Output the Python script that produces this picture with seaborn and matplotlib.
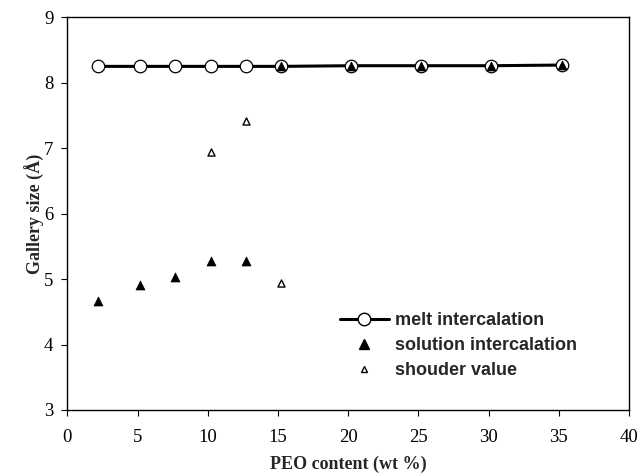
"""Gallery size vs PEO content: melt vs solution intercalation."""
import pandas as pd
import matplotlib
matplotlib.use("Agg")
import matplotlib.pyplot as plt
import seaborn as sns
from matplotlib.lines import Line2D

# melt intercalation (open circles joined by a line)
MELT_X = [2.2, 5.2, 7.7, 10.2, 12.7, 15.2, 20.2, 25.2, 30.2, 35.2]
MELT_Y = [8.25, 8.25, 8.25, 8.25, 8.25, 8.25, 8.26, 8.26, 8.26, 8.27]

# solution intercalation (filled triangles)
SOL_X = [2.2, 5.2, 7.7, 10.2, 12.7, 15.2, 20.2, 25.2, 30.2, 35.2]
SOL_Y = [4.67, 4.91, 5.03, 5.28, 5.28, 8.25, 8.26, 8.26, 8.26, 8.27]

# shoulder value (open triangles)
SH_X = [10.2, 12.7, 15.2]
SH_Y = [6.94, 7.42, 4.94]

LABELS = ["melt intercalation", "solution intercalation", "shouder value"]

sns.set_style("ticks")
plt.rcParams["font.family"] = ["Liberation Serif", "DejaVu Serif"]

melt = pd.DataFrame({"x": MELT_X, "y": MELT_Y})
sol = pd.DataFrame({"x": SOL_X, "y": SOL_Y})
sh = pd.DataFrame({"x": SH_X, "y": SH_Y})

fig = plt.figure(figsize=(6.37, 4.76), dpi=100)
ax = fig.add_axes([0.1057, 0.1387, 0.8817, 0.825])

sns.lineplot(data=melt, x="x", y="y", ax=ax, color="black", linewidth=2.2,
             marker="o", markersize=9, markerfacecolor="white",
             markeredgecolor="black", markeredgewidth=0.9, zorder=3)
sns.scatterplot(data=sol, x="x", y="y", ax=ax, marker="^", s=42,
                color="black", edgecolor="black", linewidth=0.5, zorder=4)
sns.scatterplot(data=sh, x="x", y="y", ax=ax, marker="^", s=26,
                facecolor="white", edgecolor="black", linewidth=1.0, zorder=4)

ax.set_xlim(0, 40)
ax.set_ylim(3, 9)
ax.set_xticks(range(0, 41, 5))
ax.set_yticks(range(3, 10))
ax.tick_params(axis="both", labelsize=13.5, length=4, width=0.8,
               direction="out", colors="black", pad=6)
ax.tick_params(axis="x", pad=10)
for s in ax.spines.values():
    s.set_color("black")
    s.set_linewidth(1.0)

ax.set_xlabel("PEO content (wt %)", fontsize=13, fontweight="bold", labelpad=7)
ax.set_ylabel("Gallery size (\u00c5)", fontsize=13, fontweight="bold", labelpad=-0.5)

handles = [
    Line2D([], [], color="black", linewidth=2.2, marker="o", markersize=9,
           markerfacecolor="white", markeredgecolor="black"),
    Line2D([], [], linestyle="none", marker="^", markersize=6.5, color="black"),
    Line2D([], [], linestyle="none", marker="^", markersize=5,
           markerfacecolor="white", markeredgecolor="black"),
]
ax.legend(handles, LABELS, loc="upper left", bbox_to_anchor=(0.4855, 0.249),
          frameon=False, handlelength=2.7, handletextpad=0.35,
          labelspacing=0.45, borderpad=0, borderaxespad=0,
          prop={"family": "Liberation Sans", "weight": "bold", "size": 13})

fig.savefig("out.png", dpi=100)
